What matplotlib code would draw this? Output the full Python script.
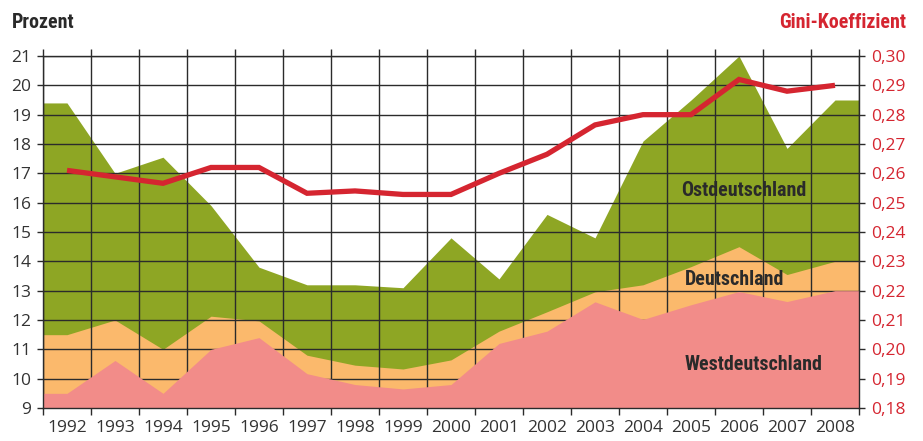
import matplotlib
matplotlib.use("Agg")
import matplotlib.pyplot as plt
from matplotlib import font_manager
import numpy as np
from matplotlib.ticker import FuncFormatter

years = list(range(1992, 2009))
ost = [19.4, 17.0, 17.55, 15.9, 13.8, 13.2, 13.2, 13.1, 14.8, 13.4, 15.6, 14.8, 18.1, 19.5, 21.0, 17.85, 19.5]
deutschland = [11.5, 12.0, 11.0, 12.13, 11.97, 10.8, 10.46, 10.33, 10.64, 11.62, 12.28, 12.96, 13.2, 13.82, 14.5, 13.55, 14.0]
west = [9.5, 10.62, 9.5, 11.0, 11.4, 10.17, 9.8, 9.65, 9.8, 11.2, 11.62, 12.62, 12.02, 12.52, 12.97, 12.63, 13.0]
gini = [0.261, 0.2588, 0.2566, 0.262, 0.262, 0.2532, 0.254, 0.2528, 0.2528, 0.260, 0.2665, 0.2765, 0.280, 0.280, 0.292, 0.288, 0.290]
left_ticks = list(range(9, 22))
right_ticks = [0.18, 0.19, 0.20, 0.21, 0.22, 0.23, 0.24, 0.25, 0.26, 0.27, 0.28, 0.29, 0.30]

GREEN = "#8ea624"
ORANGE = "#fbb96c"
PINK = "#f28c89"
RED = "#d52530"
GRID = "#2b2b2b"
TXT = "#333333"


def available(name):
    try:
        font_manager.findfont(font_manager.FontProperties(family=name), fallback_to_default=False)
        return True
    except Exception:
        return False


bold_choice = None
for cand in ["Liberation Sans Narrow", "Roboto Condensed", "Open Sans Condensed", "Noto Sans Condensed", "Lato"]:
    if available(cand):
        bold_choice = cand
        break
if bold_choice is None:
    bold_choice = "DejaVu Sans"
bold_font = [bold_choice, "DejaVu Sans"]
tick_font = ["Open Sans", "DejaVu Sans"]
BSIZE = 14.4 if bold_choice != "DejaVu Sans" else 11

fig = plt.figure(figsize=(9.23, 4.41), dpi=100)
ax = fig.add_axes([43/923, 1-408/441, (859-43)/923, (408-56)/441])

x = np.array(years, dtype=float)
xe = np.concatenate([[x[0]-0.5], x, [x[-1]+0.5]])
def ext(v):
    return np.concatenate([[v[0]], v, [v[-1]]])

base = left_ticks[0]
ax.fill_between(xe, base, ext(ost), color=GREEN, lw=0, zorder=1)
ax.fill_between(xe, base, ext(deutschland), color=ORANGE, lw=0, zorder=2)
ax.fill_between(xe, base, ext(west), color=PINK, lw=0, zorder=3)

ax.set_xlim(x[0]-0.5, x[-1]+0.5)
ax.set_ylim(left_ticks[0], left_ticks[-1])
ax.set_xticks(years)
ax.set_xticklabels([str(y) for y in years])
ax.set_xticks(np.arange(x[0]-0.5, x[-1]+0.51, 1.0), minor=True)
ax.set_yticks(left_ticks)

ax.tick_params(axis="x", which="major", length=0, pad=9, labelsize=12.5, colors=TXT)
ax.tick_params(axis="x", which="minor", length=5, width=1, color=GRID, top=True, bottom=True, direction="out")
ax.tick_params(axis="y", which="major", length=4.5, width=1, color=GRID, pad=4, labelsize=12.5, labelcolor=TXT)
for lab in ax.get_xticklabels() + ax.get_yticklabels():
    lab.set_family(tick_font)

ax.grid(True, axis="x", which="minor", color=GRID, lw=1, zorder=4)
ax.grid(True, axis="y", which="major", color=GRID, lw=1, zorder=4)
ax.set_axisbelow(False)
for s in ax.spines.values():
    s.set_color(GRID)
    s.set_linewidth(1)
    s.set_zorder(4)

ax2 = ax.twinx()
ax2.set_ylim(right_ticks[0], right_ticks[-1])
ax2.set_yticks(right_ticks)
ax2.yaxis.set_major_formatter(FuncFormatter(lambda v, p: f"{v:.2f}".replace(".", ",")))
ax2.tick_params(axis="y", length=4.5, width=1, color=GRID, pad=4, labelsize=12.5, labelcolor=RED)
for lab in ax2.get_yticklabels():
    lab.set_family(tick_font)
for s in ax2.spines.values():
    s.set_visible(False)
ax2.plot(x, gini, color=RED, lw=3.8, solid_capstyle="butt", solid_joinstyle="miter", zorder=6)

ax.text(2006.1, 16.43, "Ostdeutschland", ha="center", va="center", fontsize=BSIZE,
        fontweight="bold", family=bold_font, color="#2a2a2a", zorder=7)
ax.text(2005.9, 13.39, "Deutschland", ha="center", va="center", fontsize=BSIZE,
        fontweight="bold", family=bold_font, color="#2a2a2a", zorder=7)
ax.text(2006.3, 10.47, "Westdeutschland", ha="center", va="center", fontsize=BSIZE,
        fontweight="bold", family=bold_font, color="#2a2a2a", zorder=7)

fig.text(12/923, 1-22/441, "Prozent", ha="left", va="center", fontsize=BSIZE,
         fontweight="bold", family=bold_font, color="#2a2a2a")
fig.text(906/923, 1-22/441, "Gini-Koeffizient", ha="right", va="center", fontsize=BSIZE,
         fontweight="bold", family=bold_font, color=RED)

fig.savefig("out.png", dpi=100)
